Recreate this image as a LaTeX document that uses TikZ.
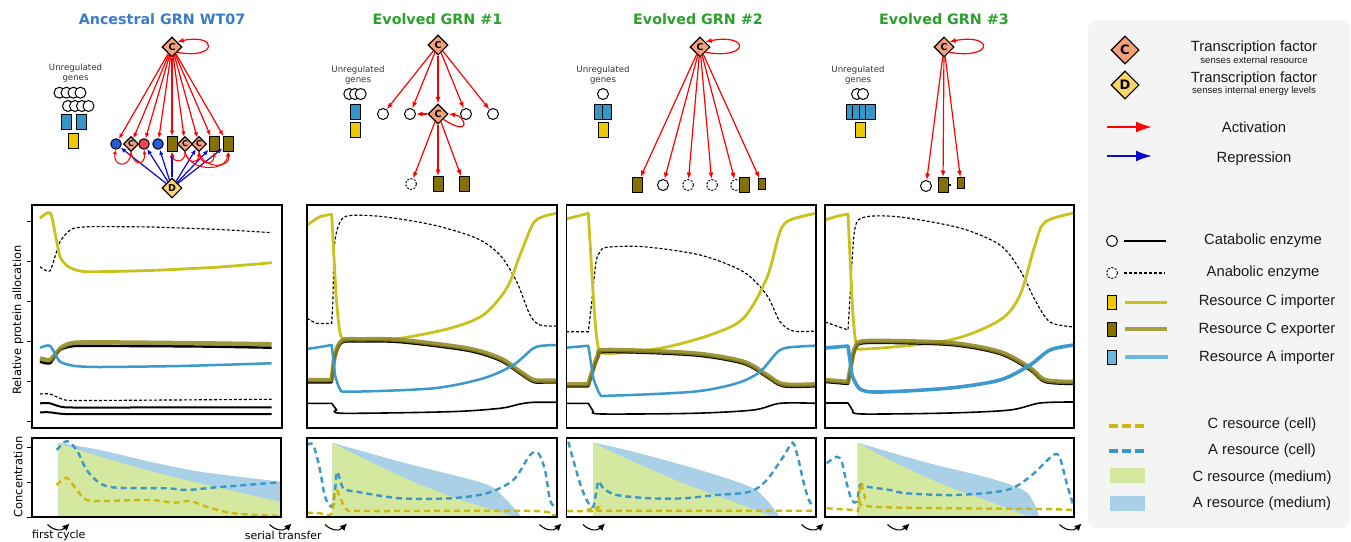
\documentclass[tikz,border=0pt]{standalone}
\usepackage{fontspec}
\setmainfont{DejaVu Sans}
\newfontfamily\legfont{Liberation Sans}
\usetikzlibrary{shapes.geometric,arrows.meta}
\definecolor{tfC}{HTML}{F3A07C}
\definecolor{tfD}{HTML}{FCD46E}
\definecolor{geneblue}{HTML}{3596C8}
\definecolor{geneyellow}{HTML}{EEC900}
\definecolor{geneolive}{HTML}{857000}
\definecolor{nodeblue}{HTML}{1F5ED8}
\definecolor{nodered}{HTML}{E8484B}
\definecolor{titleblue}{HTML}{3A7DC4}
\definecolor{titlegreen}{HTML}{2CA02C}
\definecolor{actred}{HTML}{FF0000}
\definecolor{repblue}{HTML}{0A0AD0}
\definecolor{impC}{HTML}{CAC21C}
\definecolor{expC}{HTML}{8C841C}
\definecolor{expCleg}{HTML}{A8A040}
\definecolor{impA}{HTML}{3A99CD}
\definecolor{impAleg}{HTML}{6BB8E0}
\definecolor{medC}{HTML}{D5E8A0}
\definecolor{medA}{HTML}{A9D0E6}
\definecolor{cellC}{HTML}{CDB90E}
\definecolor{cellA}{HTML}{3A97CA}
\definecolor{legbg}{HTML}{F4F4F4}
\begin{document}
\begin{tikzpicture}[x=1pt,y=-1pt,
  tfc/.style={diamond, draw=black, line width=1.1pt, fill=tfC, minimum width=20pt, minimum height=20pt, inner sep=0pt, font=\fontsize{9.5}{9.5}\selectfont\bfseries},
  tfcs/.style={tfc, minimum width=15pt, minimum height=15pt, font=\fontsize{8}{8}\selectfont\bfseries},
  tfd/.style={tfc, fill=tfD},
  enz/.style={circle, draw=black, line width=1pt, fill=white, minimum size=11pt, inner sep=0pt},
  enzd/.style={enz, dash pattern=on 2pt off 1.5pt},
  gbox/.style={rectangle, draw=black, line width=1pt, minimum width=10pt, minimum height=15pt, inner sep=0pt},
  gsmall/.style={gbox, minimum width=7.5pt, minimum height=10.5pt},
  act/.style={draw=actred, line width=1.2pt, -{Latex[length=6.5pt,width=5pt]}},
  rep/.style={draw=repblue, line width=1.2pt, -{Latex[length=6.5pt,width=5pt]}},
  lbl/.style={font=\fontsize{8.6}{10}\selectfont, text=black!80, align=center, inner sep=0pt},
  ttl/.style={font=\fontsize{14.3}{16}\selectfont\bfseries, inner sep=0pt},
  legtxt/.style={font=\legfont\fontsize{14.8}{16}\selectfont, text=black!90, inner sep=0pt},
  legsub/.style={font=\legfont\fontsize{9.6}{10}\selectfont, text=black!90, inner sep=0pt},
  axlbl/.style={font=\fontsize{11.4}{12}\selectfont, rotate=90, inner sep=0pt},
  smalltxt/.style={font=\fontsize{11}{12}\selectfont, inner sep=0pt},
  pimpC/.style={draw=impC, line width=2.8pt, line join=round},
  pexpC/.style={draw=expC, line width=4.5pt, draw opacity=.85, line join=round},
  pcat/.style={draw=black, line width=2.4pt, line join=round},
  pcatthin/.style={draw=black, line width=1.6pt, line join=round},
  pana/.style={draw=black, line width=1.15pt, dash pattern=on 3pt off 2pt},
  pimpA/.style={draw=impA, line width=2.5pt, line join=round},
  pcellC/.style={draw=cellC, line width=2.4pt, dash pattern=on 6pt off 4pt},
  pcellA/.style={draw=cellA, line width=2.4pt, dash pattern=on 6pt off 4pt},
  panelframe/.style={draw=black, line width=1.4pt},
  axtick/.style={draw=black, line width=1pt},
  cycarrow/.pic={\draw[line width=1.1pt,-{Latex[length=7pt,width=7pt]}] (-12,-1) .. controls (-6,5) and (2,6) .. (10,-2);}
]
\useasboundingbox (0,0) rectangle (1351,541);
\fill[white] (0,0) rectangle (1351,541);

% ---------------- titles ----------------
\node[ttl, text=titleblue] (tA) at (162,19) {Ancestral GRN WT07};
\node[ttl, text=titlegreen] (tB) at (437.5,19) {Evolved GRN \#1};
\node[ttl, text=titlegreen] (tC) at (698,19) {Evolved GRN \#2};
\node[ttl, text=titlegreen] (tD) at (944,19) {Evolved GRN \#3};

% ---------------- ancestral network ----------------
\node[lbl] (uAt) at (75.5,73) {Unregulated\\genes};
\foreach \x [count=\i] in {59.5,66.5,73.5,80.5} \node[enz] (uAa\i) at (\x,92.7) {};
\foreach \x [count=\i] in {68,75,82,88.5} \node[enz] (uAb\i) at (\x,106) {};
\node[gbox, fill=geneblue] (uAc1) at (66.7,121.5) {};
\node[gbox, fill=geneblue] (uAc2) at (81,121.5) {};
\node[gbox, fill=geneyellow] (uAd) at (73.5,140.5) {};

\node[tfc] (aC) at (172,47) {C};
\node[tfd] (aD) at (172,188) {D};
\node[enz, fill=nodeblue, minimum size=10.5pt] (a1) at (116,144) {};
\node[tfcs] (a2) at (131,144) {C};
\node[enz, fill=nodered, minimum size=10.5pt] (a3) at (144,144) {};
\node[enz, fill=nodeblue, minimum size=10.5pt] (a4) at (158,144) {};
\node[gbox, fill=geneolive] (a5) at (172,144) {};
\node[tfcs] (a6) at (185,144) {C};
\node[tfcs] (a7) at (199,144) {C};
\node[gbox, fill=geneolive] (a8) at (214,144) {};
\node[gbox, fill=geneolive] (a9) at (228,144) {};

\foreach \n in {1,...,9} \draw[act, -{Latex[length=5.5pt,width=4.5pt]}] (aC) -- (a\n);
\draw[act] (aC.south east) .. controls (218,60) and (218,33) .. (aC.north east);
\foreach \n in {1,3,4,5,7,8,9} \draw[rep, -{Latex[length=5.5pt,width=4.5pt]}] (aD) -- (a\n);
\draw[act, line width=1pt, -{Latex[length=4.5pt,width=4pt]}] (a2.south) .. controls (130,170) and (112,166) .. (a1.south);
\draw[act, line width=1pt, -{Latex[length=4.5pt,width=4pt]}] (a2.south) .. controls (134,168) and (146,164) .. (a3.south);
\draw[act, line width=1pt, -{Latex[length=4.5pt,width=4pt]}] (a6.south) .. controls (186,163) and (173,163) .. (a5.south);
\draw[act, line width=1pt, -{Latex[length=4.5pt,width=4pt]}] (a6.south) .. controls (190,172) and (226,172) .. (a9.south);
\draw[act, line width=1pt, -{Latex[length=4.5pt,width=4pt]}] (a7.south) .. controls (200,166) and (214,166) .. (a8.south);
\draw[act, line width=1pt, -{Latex[length=4.5pt,width=4pt]}] (a7.south) .. controls (204,170) and (231,168) .. (a9.south);
\draw[act, line width=1pt, -{Latex[length=4.5pt,width=4pt]}] (a6.south) .. controls (188,164) and (198,164) .. (a7.south);

% ---------------- evolved network 1 ----------------
\node[lbl] (uBt) at (358,75) {Unregulated\\genes};
\foreach \x [count=\i] in {349.3,355,360.7} \node[enz] (uBa\i) at (\x,94) {};
\node[gbox, fill=geneblue] (uBc) at (355.3,111.5) {};
\node[gbox, fill=geneyellow] (uBd) at (355.3,129.5) {};

\node[tfc] (bC) at (438,45) {C};
\node[enz] (b1) at (383,114) {};
\node[enz] (b2) at (410,114) {};
\node[tfc] (bM) at (438,114) {C};
\node[enz] (b3) at (466,114) {};
\node[enz] (b4) at (493,114) {};
\node[enzd] (b5) at (411,184) {};
\node[gbox, fill=geneolive] (b6) at (438,184) {};
\node[gbox, fill=geneolive] (b7) at (464,184) {};
\foreach \n in {b1,b2,bM,b3,b4} \draw[act] (bC) -- (\n);
\draw[act] (bM) -- (b2);
\foreach \n in {b5,b6,b7} \draw[act] (bM) -- (\n);
\draw[act] (bM.south east) .. controls (472,138) and (466,116) .. (bM.east);

% ---------------- evolved network 2 ----------------
\node[lbl] (uCt) at (603,75.5) {Unregulated\\genes};
\node[enz] (uCa) at (603,94) {};
\node[gbox, fill=geneblue, minimum width=8.5pt] (uCc1) at (598.8,111.5) {};
\node[gbox, fill=geneblue, minimum width=8.5pt] (uCc2) at (607.2,111.5) {};
\node[gbox, fill=geneyellow] (uCd) at (603,129.5) {};

\node[tfc] (cC) at (700,47) {C};
\node[gbox, fill=geneolive] (c1) at (637,185) {};
\node[enz] (c2) at (663,185) {};
\node[enzd] (c3) at (688,185) {};
\node[enzd] (c4) at (712,185) {};
\node[enzd] (c5) at (736,185) {};
\node[gbox, fill=geneolive] (c6) at (744,185) {};
\node[gsmall, fill=geneolive] (c7) at (762,184) {};
\foreach \n in {c1,c2,c3,c4,c5,c7} \draw[act] (cC) -- (\n);
\draw[act] (cC.south east) .. controls (750,60) and (750,33) .. (cC.north east);

% ---------------- evolved network 3 ----------------
\node[lbl] (uDt) at (858,75) {Unregulated\\genes};
\node[enz] (uDa1) at (857,94) {};
\node[enz] (uDa2) at (863,94) {};
\foreach \x [count=\i] in {851,857.5,864,870} \node[gbox, fill=geneblue] (uDc\i) at (\x,111.5) {};
\node[gbox, fill=geneyellow] (uDd) at (860,129.5) {};

\node[tfc] (dC) at (944,47) {C};
\node[enz] (d1) at (926,186) {};
\node[gbox, fill=geneolive] (d2) at (943,185) {};
\node[gsmall, fill=geneolive] (d3) at (961,183) {};
\draw[line width=1.5pt] (d2.east) -- ++(2.5,0);
\foreach \n in {d1,d2,d3} \draw[act] (dC) -- (\n);
\draw[act] (dC.south east) .. controls (994,60) and (994,33) .. (dC.north east);

% ---------------- axis labels ----------------
\node[axlbl] (ylA) at (18,320) {Relative protein allocation};
\node[axlbl] (ylB) at (18,477) {Concentration};
\foreach \y in {221,261,301,341,381,421} \draw[axtick] (27,\y) -- (32,\y);
\foreach \y in {447,482,517} \draw[axtick] (27,\y) -- (32,\y);

% ---------------- protein panel 1 ----------------
\begin{scope}
\clip (32,205) rectangle (282,428);
\draw[pana] plot[smooth,tension=.35] coordinates {(40,266.7) (50,271) (60,241.7) (71.7,229) (90,226.7) (150,227) (220,229.5) (271.7,232.7)};
\draw[pimpC] plot[smooth,tension=.35] coordinates {(40,218.3) (50.7,213.3) (60,256.7) (70,267.7) (86.7,271.7) (150,270.5) (220,267) (271.7,262.7)};
\draw[pcat] plot[smooth,tension=.35] coordinates {(40,361.7) (50,363.3) (60,350) (75,346) (120,346) (200,346.5) (271.7,347.7)};
\draw[pexpC] plot[smooth,tension=.35] coordinates {(40,358.3) (50,360) (61.7,347.3) (75,342.7) (120,342.5) (200,343.3) (271.7,344.3)};
\draw[pimpA] plot[smooth,tension=.35] coordinates {(40,347.7) (50,345.7) (60,361.7) (75,366) (100,367) (180,366) (271.7,363.3)};
\draw[pana] plot[smooth,tension=.35] coordinates {(40,394) (50,394) (65,400) (90,400.5) (271.7,399.3)};
\draw[pcatthin, line width=2pt] plot[smooth,tension=.35] coordinates {(40,403.3) (50,403.3) (65,407.3) (120,407.5) (271.7,407.3)};
\draw[pcatthin, line width=2pt] plot[smooth,tension=.35] coordinates {(40,412.3) (50,412.3) (65,414) (120,414.2) (271.7,414)};
\end{scope}
\draw[panelframe] (32,205) rectangle (282,428);

% ---------------- protein panel 2 ----------------
\begin{scope}
\clip (307,205) rectangle (557,428);
\draw[pana] plot[smooth,tension=.4] coordinates {(307,318.3) (316.7,323.3) (331.7,323.3)} -- plot[smooth,tension=.5] coordinates {(333,300) (334.5,245) (340,222) (350,215.5) (383.3,216.7) (433.3,225) (476.7,238.3) (500,255) (516.7,281.7) (530,315) (540,325) (557,326)};
\draw[pimpC] plot[smooth,tension=.4] coordinates {(307,225) (320,216.7) (331.7,214.3)} -- plot[smooth,tension=.5] coordinates {(336,295) (340,333) (346,340) (360,340.5) (400,338.3) (450,328.3) (483.3,315) (506.7,288.3) (520,255) (533.3,223.3) (545,216) (557,213.3)};
\draw[pcat] (307,382.3) -- (331.7,382.3) -- plot[smooth,tension=.5] coordinates {(334,362) (337,350.3) (343.3,342) (360,341.5) (400,342.2) (466.7,350.5) (500,360.5) (520,373.7) (533.3,382) (545,382.5) (557,382.5)};
\draw[pexpC] (307,380) -- (331.7,380) -- plot[smooth,tension=.5] coordinates {(334,360) (337,348.3) (343.3,340) (360,339.3) (400,340) (466.7,348.3) (500,358.3) (520,371.7) (533.3,380) (545,380.5) (557,380.5)};
\draw[pimpA] plot[smooth,tension=.4] coordinates {(307,349) (320,347) (331.7,345)} -- plot[smooth,tension=.5] coordinates {(335,375) (340,389) (350,391.7) (433.3,388.3) (483.3,378.3) (513.3,365) (533.3,348.3) (545,345.5) (557,345)};
\draw[pcatthin] (307,403.3) -- (331.7,403.3) -- plot[smooth,tension=.5] coordinates {(336.7,410) (343.3,413.3) (450,411.7) (500,408.3) (520,404) (533.3,402.3) (557,402.3)};
\end{scope}
\draw[panelframe] (307,205) rectangle (557,428);

% ---------------- protein panel 3 ----------------
\begin{scope}
\clip (566.5,205) rectangle (816,428);
\draw[pana] (566,331.7) -- (588.3,331.7) -- plot[smooth,tension=.5] coordinates {(592,300) (596,262) (600,252) (606.7,247.3) (643.3,246.7) (700,255) (743.3,271.7) (766.7,295) (780,321.7) (793.3,331) (816,331)};
\draw[pimpC] plot[smooth,tension=.4] coordinates {(566,219) (578,216) (588.3,213.3)} -- plot[smooth,tension=.5] coordinates {(593.5,300) (597.5,343) (605,353.3) (660,348.3) (710,335) (743.3,318.3) (766.7,278.3) (780,231.7) (790,220) (816,213.3)};
\draw[pcat] (566,386.3) -- (588.3,386.3) -- plot[smooth,tension=.5] coordinates {(593.3,370.3) (598.3,357) (606.7,352) (693.3,355.3) (743.3,363.7) (766.7,377) (783.3,386.3) (816,386.3)};
\draw[pexpC] (566,384.3) -- (588.3,384.3) -- plot[smooth,tension=.5] coordinates {(593.3,368.3) (598.3,355) (606.7,350) (693.3,353.3) (743.3,361.7) (766.7,375) (783.3,384.3) (816,384.3)};
\draw[pimpA] plot[smooth,tension=.4] coordinates {(566,347.7) (588.3,345.7)} -- plot[smooth,tension=.5] coordinates {(593.3,378.3) (600,394.3) (610,395.7) (693.3,391.7) (736.7,383.3) (760,371.7) (780,350) (800,346.5) (816,345.7)};
\draw[pcatthin] (566,403.3) -- (588.3,403.3) -- plot[smooth,tension=.5] coordinates {(593.3,411.7) (601.7,414) (693.3,413.3) (753.3,410) (780,403.3) (816,403.3)};
\end{scope}
\draw[panelframe] (566.5,205) rectangle (816,428);

% ---------------- protein panel 4 ----------------
\begin{scope}
\clip (825,205) rectangle (1074,428);
\draw[pana] plot[smooth,tension=.4] coordinates {(825,322) (848,330)} -- plot[smooth,tension=.5] coordinates {(851,280) (855,228) (865,217) (900,217) (960,228) (1000,245) (1020,270) (1035,300) (1050,322) (1074,327)};
\draw[pimpC] plot[smooth,tension=.4] coordinates {(825,220) (838,216) (848,214)} -- plot[smooth,tension=.5] coordinates {(852,300) (856,343) (865,349) (950,340) (1000,320) (1020,295) (1035,245) (1045,222) (1074,213)};
\draw[pcat] (825,382) -- (848,384) -- plot[smooth,tension=.5] coordinates {(852,362) (856,348) (868,343) (950,345) (1000,354) (1030,370) (1045,382) (1074,384)};
\draw[pexpC] (825,380) -- (848,382) -- plot[smooth,tension=.5] coordinates {(852,360) (856,346) (868,341) (950,343) (1000,352) (1030,368) (1045,380) (1074,382)};
\draw[pimpA, line width=3.6pt] plot[smooth,tension=.4] coordinates {(825,348) (848,346)} -- plot[smooth,tension=.5] coordinates {(852,375) (860,389) (880,392) (950,388) (1000,380) (1030,365) (1050,350) (1074,345)};
\draw[pcatthin] (825,403) -- (848,403) -- plot[smooth,tension=.5] coordinates {(853,411) (862,414) (950,413) (1010,410) (1040,403) (1074,402)};
\end{scope}
\draw[panelframe] (825,205) rectangle (1074,428);

% ---------------- concentration panel 1 ----------------
\begin{scope}
\clip (32,438) rectangle (281,517);
\fill[medA] plot[smooth,tension=.5] coordinates {(58.3,442.7) (100,450) (150,461.7) (200,471.7) (281,481.7)} -- (281,517) -- (58.3,517) -- cycle;
\fill[medC] plot[smooth,tension=.5] coordinates {(58.3,443.3) (100,456.7) (146.7,470) (200,483.3) (281,502)} -- (281,517) -- (58.3,517) -- cycle;
\draw[pcellA] plot[smooth,tension=.5] coordinates {(56.7,450) (66.7,441) (76.7,450) (86.7,470) (100,483.3) (116.7,487.7) (166.7,488.3) (186.7,490) (216.7,487.3) (280,482.3)};
\draw[pcellC] plot[smooth,tension=.5] coordinates {(56.7,485) (66.7,477.7) (76.7,490) (86.7,500) (100,501) (150,500) (173.3,502.7) (190,501) (206.7,506.7) (233.3,513.3) (280,516)};
\end{scope}
\draw[panelframe] (32,438) rectangle (281,517);

% ---------------- concentration panel 2 ----------------
\begin{scope}
\clip (307,438) rectangle (557,517);
\fill[medA] plot[smooth,tension=.5] coordinates {(332.3,442.7) (400,461.7) (483.3,483.3) (503.3,496.7) (521.7,517)} -- (332.3,517) -- cycle;
\fill[medC] plot[smooth,tension=.5] coordinates {(332.3,443) (366.7,460) (416.7,483.3) (466.7,501.7) (516.7,517)} -- (332.3,517) -- cycle;
\draw[pcellA] plot[smooth,tension=.5] coordinates {(307,445) (313.3,445) (320,470) (325,496.7) (331.7,506.7) (335,490) (337.3,471.7) (343.3,488.3) (356.7,491.7) (400,498.3) (450,498.3) (486.7,493.3) (513.3,480) (530,455) (538.3,453.3) (545,470) (550,500) (555,506.7)};
\draw[pcellC] plot[smooth,tension=.5] coordinates {(307,512.7) (320,513.3) (330,515) (333.3,506.7) (336,490) (340,496.7) (346.7,509.3) (366.7,511) (533.3,511) (550,515) (557,515)};
\end{scope}
\draw[panelframe] (307,438) rectangle (557,517);

% ---------------- concentration panel 3 ----------------
\begin{scope}
\clip (566.5,438) rectangle (816,517);
\fill[medA] plot[smooth,tension=.5] coordinates {(593.3,442.7) (633.3,451.7) (700,470) (750,486.7) (766.7,500) (780,517)} -- (593.3,517) -- cycle;
\fill[medC] plot[smooth,tension=.5] coordinates {(593.3,443) (633.3,461.7) (683.3,483.3) (733.3,501.7) (773.3,517)} -- (593.3,517) -- cycle;
\draw[pcellA] plot[smooth,tension=.5] coordinates {(568.3,441.7) (573.3,460) (580,483.3) (586.7,500) (593.3,506.7) (598.3,481.7) (603.3,488.3) (616.7,495) (650,498.3) (683.3,498.3) (716.7,495) (750,491.7) (766.7,480) (783.3,456.7) (792.7,442.7) (798,458) (803,480) (808,498) (812,505)};
\draw[pcellC] plot[smooth,tension=.5] coordinates {(567,511) (593.3,511) (598.3,507.3) (603.3,510.7) (816,510.7)};
\end{scope}
\draw[panelframe] (566.5,438) rectangle (816,517);

% ---------------- concentration panel 4 ----------------
\begin{scope}
\clip (825,438) rectangle (1074,517);
\fill[medA] plot[smooth,tension=.5] coordinates {(857.7,442.7) (923.3,461.7) (990,478.3) (1023.3,490) (1033.3,501.7) (1039.3,517)} -- (857.7,517) -- cycle;
\fill[medC] plot[smooth,tension=.5] coordinates {(857.7,443) (890,460) (940,483.3) (990,501.7) (1030,517)} -- (857.7,517) -- cycle;
\draw[pcellA] plot[smooth,tension=.5] coordinates {(826.7,463.3) (836.7,456.7) (841.7,461.7) (846.7,483.3) (851.7,500) (856.7,501.7) (860,485) (866.7,486.7) (890,490) (906.7,493.3) (956.7,495) (1006.7,490) (1030,476.7) (1053.3,455) (1060,458.3) (1066.7,483.3) (1072.7,503.3)};
\draw[pcellC] plot[smooth,tension=.5] coordinates {(826.7,508.3) (855,510) (858.3,509) (860.7,483.3) (865,496.7) (873.3,506.7) (1056.7,509.3) (1073,511.7)};
\end{scope}
\draw[panelframe] (825,438) rectangle (1074,517);

% ---------------- cycle markers ----------------
\foreach \x in {59.5,281.5,337,551.5,595,813.5,899.5,1071.5} \pic at (\x,525.5) {cycarrow};
\node[smalltxt] (fc) at (58.8,535) {first cycle};
\node[smalltxt] (st) at (283.3,535) {serial transfer};

% ---------------- legend ----------------
\fill[legbg, rounded corners=9pt] (1088,20) rectangle (1350,528);
\node[tfc, minimum width=28pt, minimum height=28pt, font=\fontsize{13}{13}\selectfont\bfseries] (lgC) at (1125,50) {C};
\node[tfd, minimum width=28pt, minimum height=28pt, font=\fontsize{13}{13}\selectfont\bfseries] (lgD) at (1125,85) {D};
\node[legtxt] (lgCt) at (1254,48) {Transcription factor};
\node[legsub] (lgCs) at (1254,60.5) {senses external resource};
\node[legtxt] (lgDt) at (1254,79) {Transcription factor};
\node[legsub] (lgDs) at (1254,91) {senses internal energy levels};
\coordinate (lgA0) at (1107,127); \coordinate (lgA1) at (1152,127);
\draw[draw=actred, line width=2.2pt, -{Latex[length=16pt,width=11pt]}] (lgA0) -- (lgA1);
\node[legtxt] (lgAt) at (1254,127) {Activation};
\coordinate (lgR0) at (1107,156); \coordinate (lgR1) at (1152,156);
\draw[draw=repblue, line width=2.2pt, -{Latex[length=16pt,width=11pt]}] (lgR0) -- (lgR1);
\node[legtxt] (lgRt) at (1254,158.5) {Repression};

\node[enz] (lgE1) at (1112,241) {};
\draw[black, line width=1.5pt] (1124,241) -- (1166,241);
\node[legtxt] (lgE1t) at (1263,241) {Catabolic enzyme};
\node[enzd] (lgE2) at (1112,273) {};
\draw[pana] (1124,273) -- (1165,273);
\node[legtxt] (lgE2t) at (1263,273) {Anabolic enzyme};
\node[gbox, fill=geneyellow, minimum width=9pt, minimum height=14pt] (lgG1) at (1112,302) {};
\draw[impC, line width=3pt] (1125,302) -- (1167,302);
\node[legtxt] (lgG1t) at (1267,302) {Resource C importer};
\node[gbox, fill=geneolive, minimum width=9pt, minimum height=14pt] (lgG2) at (1112,329) {};
\draw[expCleg, line width=4pt] (1125,329) -- (1167,329);
\node[legtxt] (lgG2t) at (1267,330) {Resource C exporter};
\node[gbox, fill=impAleg, minimum width=9pt, minimum height=14pt] (lgG3) at (1112,357) {};
\draw[impAleg, line width=3.5pt] (1125,357) -- (1168,357);
\node[legtxt] (lgG3t) at (1267,358) {Resource A importer};

\draw[draw=cellC, line width=3.5pt, dash pattern=on 8.5pt off 4.5pt] (1109,426) -- (1145,426);
\node[legtxt] (lgM1t) at (1262,425) {C resource (cell)};
\draw[draw=cellA, line width=3.5pt, dash pattern=on 8.5pt off 4.5pt] (1109,451) -- (1145,451);
\node[legtxt] (lgM2t) at (1262,451) {A resource (cell)};
\fill[medC] (1110,468) rectangle (1145,483);
\node[legtxt] (lgM3t) at (1262,478) {C resource (medium)};
\fill[medA] (1110,496) rectangle (1145,511);
\node[legtxt] (lgM4t) at (1262,504) {A resource (medium)};
\end{tikzpicture}
\end{document}
